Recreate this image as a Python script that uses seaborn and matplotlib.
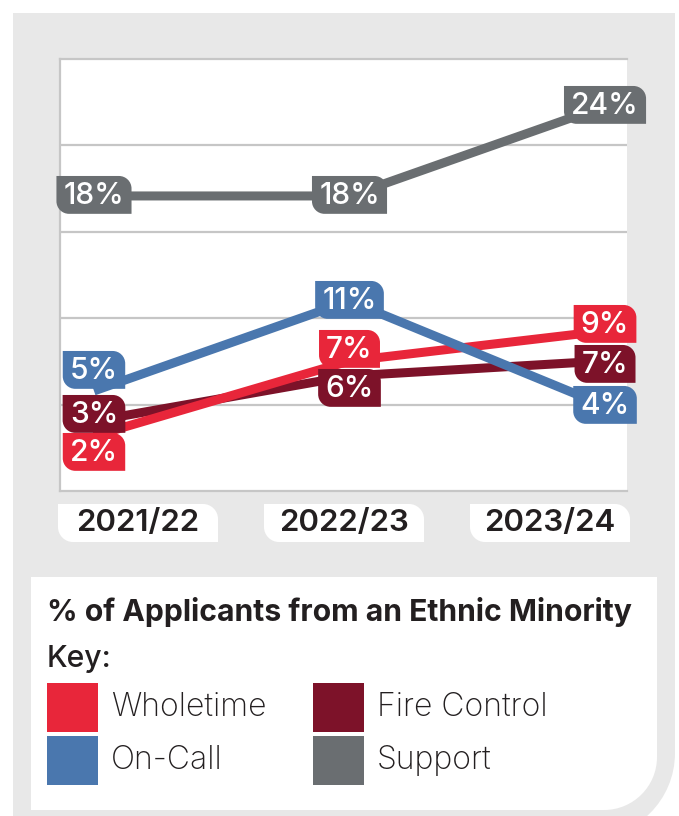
import numpy as np
import pandas as pd
import matplotlib
matplotlib.use("Agg")
import matplotlib.pyplot as plt
from matplotlib.path import Path
from matplotlib.patches import PathPatch
from matplotlib.transforms import Affine2D
import seaborn as sns

# ---- data -------------------------------------------------------------
years = ["2021/22", "2022/23", "2023/24"]
wholetime = [2, 7, 9]
fire_control = [3, 6, 7]
on_call = [5, 11, 4]
support = [18, 18, 24]
series_names = ["Wholetime", "Fire Control", "On-Call", "Support"]
title = "% of Applicants from an Ethnic Minority"
key_title = "Key:"

# ---- style ------------------------------------------------------------
palette = {
    "Wholetime": "#e8263a",
    "Fire Control": "#7d1229",
    "On-Call": "#4a77ae",
    "Support": "#6a6e71",
}
draw_order = ["Support", "Fire Control", "Wholetime", "On-Call"]
# vertical nudges (pixels, up is positive) that keep value tags apart
tag_nudge = {
    "Wholetime": [-17, 11, 6],
    "Fire Control": [6, -13, -4],
    "On-Call": [20, 0, 0],
    "Support": [0, 0, 0],
}
DARK = "#231f20"
PANEL = "#e8e8e8"
GRID = "#c6c6c6"

W, H, DPI = 679, 816, 100

sns.set_theme(style="white")
plt.rcParams["font.family"] = ["Inter", "DejaVu Sans"]

df = pd.concat(
    [
        pd.DataFrame({"Year": years, "Value": vals, "Series": name})
        for name, vals in zip(series_names, [wholetime, fire_control, on_call, support])
    ],
    ignore_index=True,
)

fig = plt.figure(figsize=(W / DPI, H / DPI), dpi=DPI)
fig.patch.set_facecolor("white")
# pixel coordinates, origin bottom-left
px = Affine2D().scale(1 / DPI) + fig.dpi_scale_trans

K = 0.5523


def rounded_path(x0, y0, x1, y1, tl=0.0, tr=0.0, br=0.0, bl=0.0):
    verts, codes = [], []

    def add(p, c):
        verts.append(p)
        codes.append(c)

    def curve(c1, c2, p):
        for q in (c1, c2, p):
            add(q, Path.CURVE4)

    add((x0 + bl, y0), Path.MOVETO)
    add((x1 - br, y0), Path.LINETO)
    if br:
        curve((x1 - br + K * br, y0), (x1, y0 + br - K * br), (x1, y0 + br))
    add((x1, y1 - tr), Path.LINETO)
    if tr:
        curve((x1, y1 - tr + K * tr), (x1 - tr + K * tr, y1), (x1 - tr, y1))
    add((x0 + tl, y1), Path.LINETO)
    if tl:
        curve((x0 + tl - K * tl, y1), (x0, y1 - tl + K * tl), (x0, y1 - tl))
    add((x0, y0 + bl), Path.LINETO)
    if bl:
        curve((x0, y0 + bl - K * bl), (x0 + bl - K * bl, y0), (x0 + bl, y0))
    add((x0 + bl, y0), Path.CLOSEPOLY)
    return Path(verts, codes)


class LeafBox:
    """Box with rounded top-right and bottom-left corners."""

    def __init__(self, pad_x=0.28, pad_top=0.0, pad_bottom=0.0, r=0.45):
        self.pad_x, self.pad_top, self.pad_bottom, self.r = pad_x, pad_top, pad_bottom, r

    def __call__(self, x0, y0, width, height, mutation_size):
        m = mutation_size
        return rounded_path(
            x0 - self.pad_x * m,
            y0 - self.pad_bottom * m,
            x0 + width + self.pad_x * m,
            y0 + height + self.pad_top * m,
            tr=self.r * m,
            bl=self.r * m,
        )


def panel(x0, top, x1, bottom, color, **radii):
    path = rounded_path(x0, H - bottom, x1, H - top, **radii)
    fig.add_artist(PathPatch(path, transform=px, facecolor=color, edgecolor="none", zorder=-2))


# ---- background panels --------------------------------------------------
panel(13, 13, 675, 838, PANEL, br=85)
panel(31, 577, 657, 810, "white", br=53)

# ---- line chart ---------------------------------------------------------
ax_l, ax_r, ax_t, ax_b = 60, 627, 59, 491
ax = fig.add_axes([ax_l / W, 1 - ax_b / H, (ax_r - ax_l) / W, (ax_b - ax_t) / H])
ax.set_facecolor("white")

sns.lineplot(
    data=df, x="Year", y="Value", hue="Series", hue_order=draw_order,
    palette=palette, linewidth=6.5, legend=False, sort=False, ax=ax,
)
for ln in ax.lines:
    ln.set_solid_joinstyle("miter")
    ln.set_solid_capstyle("butt")

ylo, yhi = -1.67, 27.13
ax.set_xlim(-0.133, 2.086)
ax.set_ylim(ylo, yhi)
ax.set_yticks(np.linspace(ylo, yhi, 6)[1:-1])
ax.set_yticklabels([])
ax.set_xticks([])
ax.set_xlabel("")
ax.set_ylabel("")
ax.tick_params(length=0)
ax.yaxis.grid(True, color=GRID, linewidth=1.6)
ax.set_axisbelow(True)
for side in ("left", "top", "bottom"):
    ax.spines[side].set_visible(True)
    ax.spines[side].set_color(GRID)
    ax.spines[side].set_linewidth(1.6)
ax.spines["right"].set_visible(False)

# value tags sitting on the line ends
tag_style = LeafBox(pad_x=0.24, pad_top=0.2, pad_bottom=0.13, r=0.42)
for name in draw_order:
    sub = df[df["Series"] == name].reset_index(drop=True)
    for i, row in sub.iterrows():
        ax.annotate(
            f"{row['Value']}%",
            xy=(i, row["Value"]),
            xytext=(0, tag_nudge[name][i] * 72 / DPI),
            textcoords="offset points",
            ha="center", va="center",
            fontsize=21.5, fontweight="medium", color="white",
            bbox=dict(boxstyle=tag_style, facecolor=palette[name], edgecolor="none"),
            annotation_clip=False, zorder=5,
        )

# year labels in white tabs under the plot
tab_w, tab_gap, tab_top, tab_bot = 160, 46, 504, 542
for i, yr in enumerate(years):
    x0 = 58 + i * (tab_w + tab_gap)
    panel(x0, tab_top, x0 + tab_w, tab_bot, "white", tr=15, bl=15)
    fig.text((x0 + tab_w / 2) / W, 1 - (tab_top + tab_bot) / 2 / H, yr,
             ha="center", va="center", fontsize=22.5, fontweight="semibold", color=DARK)

# ---- title and key ------------------------------------------------------
fig.text(47 / W, 1 - 612 / H, title, ha="left", va="center",
         fontsize=21.7, fontweight="bold", color=DARK)
fig.text(47 / W, 1 - 659 / H, key_title, ha="left", va="center",
         fontsize=21.7, fontweight="medium", color=DARK)

key_layout = {
    "Wholetime": (47, 683),
    "On-Call": (47, 736),
    "Fire Control": (313, 683),
    "Support": (313, 736),
}
sw_w, sw_h = 51, 49
for name in series_names:
    x0, top = key_layout[name]
    panel(x0, top, x0 + sw_w, top + sw_h, palette[name])
    fig.text((x0 + sw_w + 13) / W, 1 - (top + sw_h / 2) / H, name,
             ha="left", va="center", fontsize=23, fontweight="light", color=DARK)

fig.savefig("out.png", dpi=DPI, facecolor="white")
